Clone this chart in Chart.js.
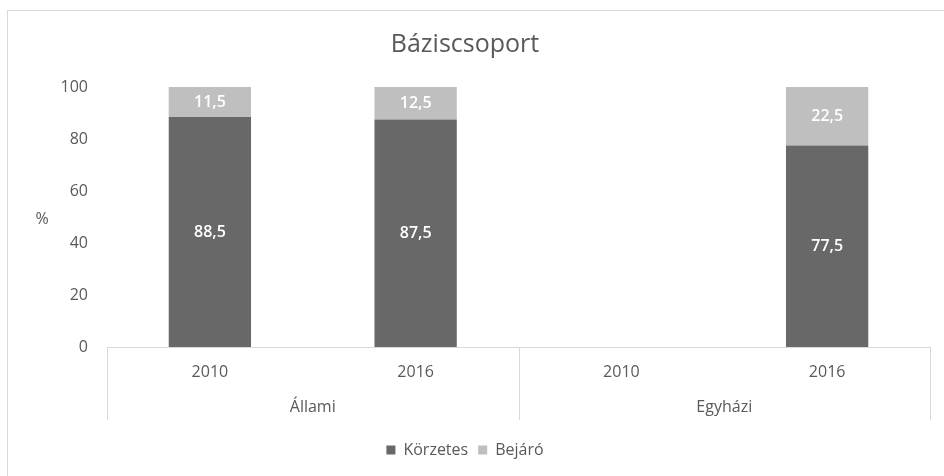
<!DOCTYPE html>
<html>
<head>
<meta charset="utf-8">
<script src="https://cdn.jsdelivr.net/npm/chart.js@4/dist/chart.umd.min.js"></script>
<style>
  body { margin: 0; background: #fff; }
  #wrap { width: 944px; height: 476px; }
</style>
</head>
<body>
<div id="wrap"><canvas id="myChart" width="944" height="476"></canvas></div>
<script>
// chart data
const years = ['2010', '2016', '2010', '2016'];
const groups = ['Állami', 'Egyházi'];
const korzetes = [88.5, 87.5, null, 77.5];
const bejaro = [11.5, 12.5, null, 22.5];
const yTicks = [0, 20, 40, 60, 80, 100];

const textColor = '#595959';
const lineColor = '#d9d9d9';
const font = '"Open Sans", sans-serif';

// outer frame, "%" label and group separators
const decorations = {
  id: 'decorations',
  beforeDraw(chart) {
    const ctx = chart.ctx;
    ctx.save();
    ctx.strokeStyle = lineColor;
    ctx.lineWidth = 1;
    ctx.strokeRect(7.5, 10.5, 1000, 1000);
    ctx.restore();
  },
  afterDraw(chart) {
    const ctx = chart.ctx;
    const x = chart.scales.x;
    const y = chart.scales.y;
    ctx.save();
    ctx.strokeStyle = lineColor;
    ctx.lineWidth = 1;
    const mid = (x.getPixelForValue(1) + x.getPixelForValue(2)) / 2;
    [x.left, mid, x.right].forEach(function (px) {
      ctx.beginPath();
      ctx.moveTo(Math.round(px) + 0.5, x.top);
      ctx.lineTo(Math.round(px) + 0.5, 420);
      ctx.stroke();
    });
    ctx.fillStyle = textColor;
    ctx.font = '16px ' + font;
    ctx.textAlign = 'center';
    ctx.textBaseline = 'middle';
    ctx.fillText('%', 42, y.getPixelForValue(49));
    ctx.restore();
  }
};

// white value labels inside the bar segments
const valueLabels = {
  id: 'valueLabels',
  afterDatasetsDraw(chart) {
    const ctx = chart.ctx;
    ctx.save();
    ctx.fillStyle = '#ffffff';
    ctx.font = '600 16px ' + font;
    ctx.textAlign = 'center';
    ctx.textBaseline = 'middle';
    chart.data.datasets.forEach(function (ds, i) {
      chart.getDatasetMeta(i).data.forEach(function (bar, j) {
        const v = ds.data[j];
        if (v === null || v === undefined) return;
        ctx.fillText(String(v).replace('.', ','), bar.x, (bar.y + bar.base) / 2);
      });
    });
    ctx.restore();
  }
};

const config = {
  type: 'bar',
  data: {
    labels: years,
    datasets: [
      {
        label: 'Körzetes',
        data: korzetes,
        backgroundColor: '#686868',
        categoryPercentage: 1,
        barPercentage: 0.4
      },
      {
        label: 'Bejáró',
        data: bejaro,
        backgroundColor: '#bfbfbf',
        categoryPercentage: 1,
        barPercentage: 0.4
      }
    ]
  },
  options: {
    responsive: false,
    animation: false,
    layout: { padding: { left: 0, right: 14, top: 0, bottom: 8 } },
    plugins: {
      title: {
        display: true,
        text: 'Báziscsoport',
        color: textColor,
        font: { family: font, size: 25, weight: 'normal' },
        padding: { top: 30, bottom: 27 }
      },
      legend: {
        position: 'bottom',
        labels: {
          color: textColor,
          font: { family: font, size: 16 },
          boxWidth: 9,
          boxHeight: 9,
          padding: 10
        }
      },
      tooltip: { enabled: false }
    },
    scales: {
      y: {
        stacked: true,
        min: 0,
        max: 100,
        afterBuildTicks(scale) {
          scale.ticks = yTicks.map(v => ({ value: v }));
        },
        afterFit(scale) { scale.width = 107; },
        grid: { display: false, drawTicks: false },
        border: { display: false },
        ticks: { color: textColor, font: { family: font, size: 16 }, padding: 19 }
      },
      x: {
        stacked: true,
        afterFit(scale) { scale.height = 43; },
        grid: { display: false, drawTicks: false },
        border: { display: true, color: lineColor },
        ticks: { color: textColor, font: { family: font, size: 16 }, padding: 16 }
      },
      x2: {
        type: 'category',
        position: 'bottom',
        labels: groups,
        offset: true,
        afterFit(scale) { scale.height = 42; },
        grid: { display: false, drawTicks: false },
        border: { display: false },
        ticks: { color: textColor, font: { family: font, size: 16 }, padding: 8 }
      }
    }
  },
  plugins: [decorations, valueLabels]
};

const myChart = new Chart(document.getElementById('myChart'), config);
</script>
</body>
</html>
